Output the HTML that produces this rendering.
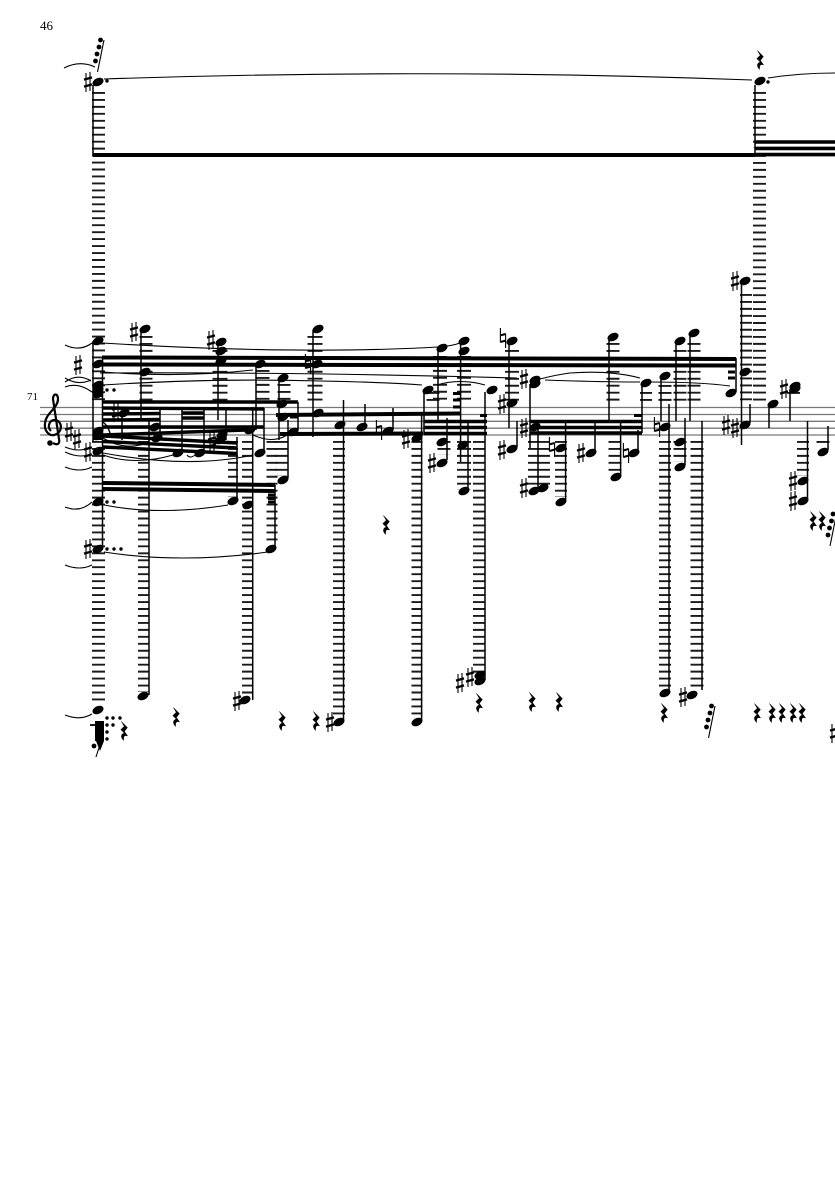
<!DOCTYPE html>
<html><head><meta charset="utf-8"><style>
html,body{margin:0;padding:0;background:#fff;width:835px;height:1181px;overflow:hidden}
svg{display:block}
text{font-family:"Liberation Serif",serif;fill:#000}
.L{stroke:#1a1a1a;fill:none;stroke-dasharray:1.9 5.06}
.St{stroke:#000;stroke-width:1.5;fill:none}
.B{stroke:#000;stroke-width:4;fill:none}
.S{stroke:#000;stroke-width:1.1;fill:none}
</style></head><body>
<svg width="835" height="1181" viewBox="0 0 835 1181" xmlns="http://www.w3.org/2000/svg">
<defs>
<ellipse id="n" rx="5.8" ry="3.9" transform="rotate(-25)" fill="#000"/>
<g id="s" stroke="#000" fill="none"><path d="M-2 -9V10M2 -10V9" stroke-width="1.1"/><path d="M-4 -2.4L4 -4.6M-4 4.6L4 2.4" stroke-width="2.4"/></g>
<g id="h" stroke="#000" fill="none"><path d="M-2.6 -10V4.5M2.6 -4.5V10" stroke-width="1.1"/><path d="M-2.6 -2.6L2.6 -4M-2.6 4L2.6 2.6" stroke-width="2"/></g>
<path id="r" d="M-2.6 -9.5L3.4 -3.4L.4 .4L3.6 5C1.4 4 -1 4.6 -.4 9.4C-3.6 6.6 -3.2 2.6 .4 2.2L-3.2 -1.4L.2 -4.8Z" fill="#000" stroke="#000" stroke-width=".5"/>
<g id="g"><path d="M6.5 -16L0 16" stroke="#000" stroke-width="1.1"/><circle cx="3" cy="-16" r="2.4"/><circle cx="1.5" cy="-9" r="2.4"/><circle cx="-.5" cy="-2" r="2.4"/><circle cx="-2" cy="5" r="2.4"/></g>
</defs>

<text x="40" y="30" font-size="13">46</text>
<text x="27" y="400" font-size="11">71</text>

<path d="M40 407.5H835M40 414.5H835M40 421.3H835M40 428.2H835M40 435H835" stroke="#777" stroke-width="1.3"/>

<g class="L">
<path stroke-width="13" d="M98.5 92V401"/>
<path stroke-width="13" d="M98.5 441V701"/>
<path stroke-width="13" d="M146 336V401"/>
<path stroke-width="11" d="M143.5 441V692"/>
<path stroke-width="15" d="M220 350V401"/>
<path stroke-width="10" d="M233 441V497"/>
<path stroke-width="11" d="M247.5 441V697"/>
<path stroke-width="13" d="M263 370V401"/>
<path stroke-width="13" d="M284 384V401"/>
<path stroke-width="11" d="M272 441V545"/>
<path stroke-width="13" d="M282 441V476"/>
<path stroke-width="15" d="M315 336V401"/>
<path stroke-width="12" d="M339 441V718"/>
<path stroke-width="11" d="M417 441V718"/>
<path stroke-width="13" d="M433 392V401"/>
<path stroke-width="14" d="M440 356V401"/>
<path stroke-width="14" d="M464 356V401"/>
<path stroke-width="13" d="M444 441V455"/>
<path stroke-width="14" d="M464 441V490"/>
<path stroke-width="12" d="M479 441V677"/>
<path stroke-width="14" d="M512 350V401"/>
<path stroke-width="22" d="M539 441V485"/>
<path stroke-width="13" d="M613 343V401"/>
<path stroke-width="12" d="M561 441V497"/>
<path stroke-width="13" d="M615 441V472"/>
<path stroke-width="12" d="M646 392V401"/>
<path stroke-width="13" d="M665 385V401"/>
<path stroke-width="13" d="M680 350V401"/>
<path stroke-width="13" d="M694 343V401"/>
<path stroke-width="12" d="M665 441V690"/>
<path stroke-width="13" d="M697 441V690"/>
<path stroke-width="13" d="M680 441V462"/>
<path stroke-width="12" d="M746 294V401"/>
<path stroke-width="13" d="M759.5 92V148"/>
<path stroke-width="13" d="M759.5 155V401"/>
<path stroke-width="13" d="M793.5 392V394"/>
<path stroke-width="13" d="M823 441V444"/>
<path stroke-width="12" d="M803 441V476"/>
</g>

<path d="M93 155H755" class="B"/>
<path d="M755 142H835M755 148.4H835M755 154.6H835" class="B" style="stroke-width:3.6"/>
<path d="M102 357.5L736 359M102 364.5L736 365.5" class="B"/>
<path d="M102 402L298 402M102 408L264 409M103 414L160 413.5M103 420L160 419.5M103 427L264 427M182 413H204M182 418H204" class="B" style="stroke-width:3.4"/>
<path d="M103 435L246 430M103 436L237 443M103 441.5L237 448M103 447L237 453.5" class="B" style="stroke-width:3.4"/>
<path d="M276 415L460 413.5M280 434L423 433.5" class="B"/>
<path d="M102 483L275 485M102 489L275 491" class="B"/>
<path d="M424 421.5L487 421.5M424 427.5L487 427.5M424 433.5L487 433.5" class="B" style="stroke-width:3.4"/>
<path d="M530 421.5L642 421.5M530 427.5L642 427.5M530 433L642 433" class="B" style="stroke-width:3.4"/>
<path d="M453 393.5H460M453 400H460M453 407H460M480 415.5H487M634 415.5H642M728 372H735M728 378H735M268 495H275M268 498.5H275M268 502H275M290 417H298" class="B" style="stroke-width:3"/>

<path class="St" d="M93 85V155M93 341V442M102.5 358V549M141 330V420M149 420V695M122 408V440M160 408V437M182 408V450M204 408V450M226 408V440M218 345V420M237 437V501M252.7 407V700M256 364V430M264 408V452M275 485V549M279 380V440M288 420V478M298 402V430M313 330V437M343.5 400V720M365 404V427M393 408V430M421.6 415V720M424 392V435M438 350V422M447 418V460M460.6 342V462M468 423V491M485 392V680M509 343V428M517 421V447M530 384V448M538 423V490M565.6 423V500M595 423V451M620.6 423V475M609 338V421M638 430V451M642 385V433M661 378V421M669 404V692M676 343V421M690 335V421M685 418V465M702 421V690M736 358V392M741.5 283V445M750 404V423M755 85V155M769 406V428M790 389V421M807.5 421V499M828 426V450"/>

<g>
<use href="#n" x="98" y="82"/><use href="#n" x="760" y="81"/>
<use href="#n" x="98" y="341"/><use href="#n" x="98" y="364"/><use href="#n" x="98" y="385"/><use href="#n" x="98" y="390"/><use href="#n" x="98" y="394"/>
<use href="#n" x="98" y="431"/><use href="#n" x="98" y="436"/><use href="#n" x="98" y="451"/><use href="#n" x="98" y="502"/><use href="#n" x="98" y="549"/><use href="#n" x="98" y="710"/>
<use href="#n" x="145" y="329"/><use href="#n" x="145" y="372"/><use href="#n" x="124" y="413"/><use href="#n" x="155" y="427"/><use href="#n" x="157" y="438"/><use href="#n" x="143" y="696"/>
<use href="#n" x="221" y="342"/><use href="#n" x="221" y="351"/><use href="#n" x="221" y="361"/><use href="#n" x="178" y="453"/><use href="#n" x="200" y="453"/><use href="#n" x="220" y="440"/><use href="#n" x="222" y="435"/>
<use href="#n" x="233" y="501"/><use href="#n" x="248" y="505"/><use href="#n" x="245" y="700"/><use href="#n" x="260" y="453"/><use href="#n" x="260" y="364"/><use href="#n" x="250" y="430"/>
<use href="#n" x="283" y="378"/><use href="#n" x="282" y="404"/><use href="#n" x="283" y="417"/><use href="#n" x="293" y="432"/><use href="#n" x="283" y="480"/><use href="#n" x="271" y="549"/>
<use href="#n" x="318" y="329"/><use href="#n" x="317" y="364"/><use href="#n" x="318" y="413"/><use href="#n" x="340" y="425"/><use href="#n" x="339" y="722"/><use href="#n" x="362" y="427"/><use href="#n" x="388" y="431"/><use href="#n" x="417" y="438"/><use href="#n" x="417" y="722"/>
<use href="#n" x="428" y="390"/><use href="#n" x="442" y="348"/><use href="#n" x="464" y="341"/><use href="#n" x="464" y="351"/><use href="#n" x="442" y="442"/><use href="#n" x="442" y="463"/><use href="#n" x="463" y="445"/><use href="#n" x="464" y="491"/><use href="#n" x="492" y="390"/>
<use href="#n" x="480" y="675"/><use href="#n" x="480" y="681"/>
<use href="#n" x="512" y="341"/><use href="#n" x="512" y="403"/><use href="#n" x="512" y="449"/><use href="#n" x="535" y="380"/><use href="#n" x="535" y="384"/><use href="#n" x="535" y="427"/><use href="#n" x="534" y="491"/><use href="#n" x="543" y="488"/><use href="#n" x="561" y="448"/><use href="#n" x="561" y="502"/>
<use href="#n" x="591" y="453"/><use href="#n" x="616" y="477"/><use href="#n" x="634" y="453"/><use href="#n" x="613" y="337"/><use href="#n" x="646" y="383"/><use href="#n" x="665" y="376"/><use href="#n" x="665" y="427"/><use href="#n" x="665" y="693"/>
<use href="#n" x="680" y="341"/><use href="#n" x="694" y="333"/><use href="#n" x="680" y="442"/><use href="#n" x="680" y="467"/><use href="#n" x="692" y="695"/><use href="#n" x="731" y="393"/><use href="#n" x="745" y="372"/><use href="#n" x="745" y="281"/><use href="#n" x="745" y="425"/>
<use href="#n" x="773" y="404"/><use href="#n" x="795" y="386"/><use href="#n" x="795" y="389"/><use href="#n" x="823" y="452"/><use href="#n" x="803" y="481"/><use href="#n" x="803" y="501"/>
</g>
<rect x="93" y="430" width="9" height="10" fill="#000"/>
<rect x="94" y="383" width="8" height="14" fill="#000"/>

<g>
<use href="#s" x="88" y="82"/><use href="#s" x="78" y="365"/><use href="#s" x="69" y="432"/><use href="#s" x="77" y="439"/><use href="#s" x="88" y="452"/><use href="#s" x="88" y="549"/>
<use href="#s" x="134" y="332"/><use href="#s" x="116" y="412"/><use href="#s" x="211" y="340"/><use href="#s" x="212" y="442"/><use href="#s" x="237" y="701"/>
<use href="#h" x="308" y="364"/><use href="#s" x="330" y="722"/><use href="#h" x="379" y="430"/><use href="#s" x="406" y="439"/><use href="#s" x="432" y="463"/>
<use href="#s" x="460" y="683"/><use href="#s" x="470" y="677"/><use href="#h" x="503" y="338"/><use href="#s" x="502" y="404"/><use href="#s" x="502" y="450"/><use href="#s" x="524" y="379"/><use href="#s" x="524" y="428"/><use href="#s" x="524" y="488"/>
<use href="#h" x="552" y="447"/><use href="#s" x="581" y="453"/><use href="#h" x="626" y="453"/><use href="#h" x="657" y="427"/><use href="#s" x="683" y="697"/><use href="#s" x="726" y="425"/><use href="#s" x="735" y="428"/><use href="#s" x="735" y="281"/><use href="#s" x="784" y="389"/><use href="#s" x="793" y="481"/><use href="#s" x="793" y="501"/><use href="#s" x="834" y="733"/>
</g>

<g>
<use href="#r" x="760" y="60"/><use href="#r" x="124" y="731"/><use href="#r" x="176" y="717"/><use href="#r" x="282" y="721"/><use href="#r" x="316" y="721"/><use href="#r" x="386" y="525"/>
<use href="#r" x="479" y="703"/><use href="#r" x="532" y="702"/><use href="#r" x="559" y="702"/><use href="#r" x="664" y="713"/><use href="#r" x="757" y="713"/><use href="#r" x="772" y="713"/><use href="#r" x="782" y="713"/><use href="#r" x="793" y="713"/><use href="#r" x="802" y="713"/><use href="#r" x="813" y="521"/><use href="#r" x="822" y="521"/>
</g>

<use href="#g" x="97.5" y="56"/>
<use href="#g" x="708.5" y="722"/>
<use href="#g" x="830" y="530"/>
<path d="M103 735L96 757" stroke="#000" stroke-width="1.1"/><circle cx="94" cy="746" r="2.4"/>
<rect x="95" y="721" width="9" height="20" fill="#000"/><path d="M96 741L100 751L104 741Z"/>
<path d="M90 725H104" stroke="#000" stroke-width="1.8"/>

<g>
<circle cx="107" cy="81" r="1.7"/><circle cx="768" cy="82" r="1.7"/><circle cx="107" cy="390" r="1.7"/><circle cx="114" cy="390" r="1.7"/><circle cx="107" cy="502" r="1.7"/><circle cx="114" cy="502" r="1.7"/><circle cx="107" cy="549" r="1.7"/><circle cx="114" cy="549" r="1.7"/><circle cx="121" cy="549" r="1.7"/>
<circle cx="107" cy="718" r="1.7"/><circle cx="113" cy="718" r="1.7"/><circle cx="120" cy="718" r="1.7"/><circle cx="107" cy="725" r="1.7"/><circle cx="113" cy="725" r="1.7"/><circle cx="107" cy="732" r="1.7"/><circle cx="107" cy="739" r="1.7"/>
</g>

<g class="S">
<path d="M64 68Q80 60 95 67"/>
<path d="M104 79Q430 68 752 80"/>
<path d="M768 78Q800 73 835 73"/>
<path d="M65 345Q80 352 92 343"/>
<path d="M65 382Q78 373 91 381M65 378Q78 386 91 380M65 387Q78 382 92 392"/>
<path d="M65 447Q80 453 90 447M65 452Q78 458 88 455M65 467Q80 473 92 467M65 507Q80 513 92 502M65 565Q80 571 92 565M65 715Q80 721 92 714"/>
<path d="M102 343Q300 355 438 347Q452 346 460 343"/>
<path d="M103 372Q180 378 253 370"/>
<path d="M103 385Q210 378 320 381Q380 382 422 385"/>
<path d="M100 373Q300 372 517 378"/>
<path d="M437 385Q460 378 485 385"/>
<path d="M540 379Q555 375 570 373Q610 370 640 378"/>
<path d="M545 380Q600 382 640 382M650 382Q700 382 730 386"/>
<path d="M253 435Q273 444 287 435"/>
<path d="M103 455Q135 466 173 455M187 455Q190 459 195 455"/>
<path d="M103 453Q190 469 253 455"/>
<path d="M103 438Q125 452 150 442"/>
<path d="M104 505Q160 516 228 505"/>
<path d="M104 552Q180 564 268 552"/>
<path d="M103 422Q108 426 110 433" stroke-width="1.4"/>
</g>

<path d="M53 443C58 446 60 443 59 439L53 399C53 393 58 393 58 399C58 408 46 413 45 423C44 431 49 436 54 435C63 433 63 421 55 420C49 420 47 427 51 431" fill="none" stroke="#000" stroke-width="2.2"/>
<circle cx="50" cy="443" r="2.8"/>
</svg>
</body></html>
